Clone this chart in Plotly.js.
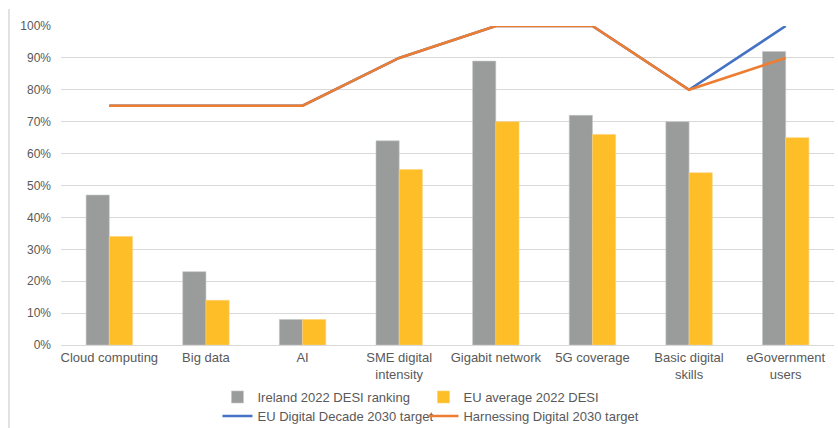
<!DOCTYPE html>
<html>
<head>
<meta charset="utf-8">
<script src="https://cdn.plot.ly/plotly-3.0.1.min.js"></script>
<style>
html,body{margin:0;padding:0;background:#fff;}
#chart{width:838px;height:428px;}
</style>
</head>
<body>
<div id="chart"></div>
<script>
var categories = ["Cloud computing", "Big data", "AI", "SME digital<br>intensity", "Gigabit network", "5G coverage", "Basic digital<br>skills", "eGovernment<br>users"];
var irelandDESI = [0.47, 0.23, 0.08, 0.64, 0.89, 0.72, 0.70, 0.92];
var euAverageDESI = [0.34, 0.14, 0.08, 0.55, 0.70, 0.66, 0.54, 0.65];
var euDigitalDecadeTarget = [0.75, 0.75, 0.75, 0.90, 1.00, 1.00, 0.80, 1.00];
var harnessingDigitalTarget = [0.75, 0.75, 0.75, 0.90, 1.00, 1.00, 0.80, 0.90];
var yTickVals = [0, 0.1, 0.2, 0.3, 0.4, 0.5, 0.6, 0.7, 0.8, 0.9, 1.0];
var yTickText = ["0%", "10%", "20%", "30%", "40%", "50%", "60%", "70%", "80%", "90%", "100%"];

var FONT = "'Liberation Sans', Arial, sans-serif";
var traces = [
  {type: "bar", name: "Ireland 2022 DESI ranking", x: categories, y: irelandDESI,
   marker: {color: "#9A9C9C", line: {color: "#c4c6c6", width: 0.6}}, legend: "legend", legendwidth: 161},
  {type: "bar", name: "EU average 2022 DESI", x: categories, y: euAverageDESI,
   marker: {color: "#FDBE27", line: {color: "#fdd27a", width: 0.6}}, legend: "legend", legendwidth: 190},
  {type: "scatter", mode: "lines", name: "EU Digital Decade 2030 target", x: categories, y: euDigitalDecadeTarget,
   line: {color: "#4472C4", width: 2.6}, legend: "legend2", legendwidth: 161, cliponaxis: false},
  {type: "scatter", mode: "lines", name: "Harnessing Digital 2030 target", x: categories, y: harnessingDigitalTarget,
   line: {color: "#ED7D31", width: 2.6}, legend: "legend2", legendwidth: 190, cliponaxis: false}
];

var legendCommon = {
  orientation: "h", xref: "container", yref: "container", x: 0.2595, xanchor: "left",
  yanchor: "middle", font: {family: FONT, size: 13, color: "#595959"},
  bgcolor: "rgba(0,0,0,0)", traceorder: "normal"
};

var layout = {
  width: 838, height: 428,
  margin: {l: 61, r: 4, t: 26, b: 83},
  paper_bgcolor: "#ffffff", plot_bgcolor: "#ffffff",
  font: {family: FONT, size: 12, color: "#595959"},
  barmode: "group", bargap: 0.52, bargroupgap: 0,
  showlegend: true,
  xaxis: {
    type: "category", showgrid: false, zeroline: false, showline: false,
    ticks: "", tickfont: {family: FONT, size: 13, color: "#595959"},
    ticklabelstandoff: 3, fixedrange: true
  },
  yaxis: {
    range: [0, 1.0], tickvals: yTickVals, ticktext: yTickText,
    showgrid: true, gridcolor: "#d9d9d9", gridwidth: 1,
    zeroline: true, zerolinecolor: "#d9d9d9", zerolinewidth: 1,
    showline: false, ticks: "", ticklabelstandoff: 9,
    tickfont: {family: FONT, size: 12, color: "#595959"}, fixedrange: true
  },
  legend: Object.assign({}, legendCommon, {y: 0.0724}),
  legend2: Object.assign({}, legendCommon, {y: 0.028}),
  shapes: [{
    type: "line", xref: "paper", yref: "paper",
    x0: (9 - 61) / 773, x1: (9 - 61) / 773, y0: (345 - 9) / 319, y1: -83 / 319,
    line: {color: "#e2e2e2", width: 2}
  }]
};

Plotly.newPlot("chart", traces, layout, {displayModeBar: false, staticPlot: true});
</script>
</body>
</html>
